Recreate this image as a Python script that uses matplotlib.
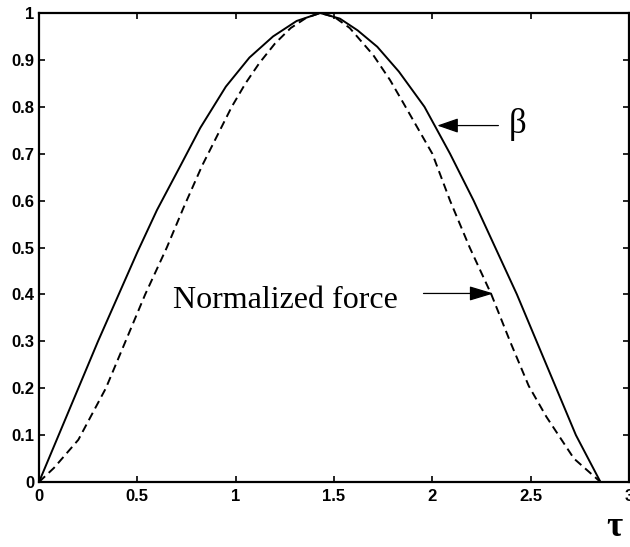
import matplotlib
matplotlib.use("Agg")
import matplotlib.pyplot as plt

# beta (solid) against tau
tau_beta = [0, 0.10, 0.20, 0.30, 0.40, 0.50, 0.60, 0.72, 0.82, 0.95, 1.07, 1.19,
            1.31, 1.43, 1.53, 1.62, 1.72, 1.83, 1.96, 2.09, 2.21, 2.32, 2.43,
            2.53, 2.63, 2.73, 2.855]
beta = [0, 0.10, 0.20, 0.30, 0.395, 0.49, 0.58, 0.675, 0.755, 0.843, 0.905, 0.950,
        0.983, 1.0, 0.988, 0.963, 0.928, 0.875, 0.80, 0.70, 0.60, 0.50, 0.40,
        0.30, 0.20, 0.10, 0]

# normalized force (dashed) against tau
tau_force = [0, 0.076, 0.20, 0.34, 0.44, 0.54, 0.65, 0.735, 0.83, 0.92, 0.98,
             1.05, 1.12, 1.20, 1.28, 1.36, 1.43, 1.50, 1.58, 1.70, 1.785, 1.85,
             2.0, 2.09, 2.19, 2.30, 2.395, 2.49, 2.58, 2.72, 2.855]
force = [0, 0.03, 0.09, 0.20, 0.30, 0.40, 0.50, 0.585, 0.675, 0.75, 0.80,
         0.85, 0.893, 0.935, 0.968, 0.99, 1.0, 0.992, 0.968, 0.910, 0.857, 0.81,
         0.70, 0.60, 0.50, 0.40, 0.30, 0.205, 0.139, 0.05, 0]

xticks = [0, 0.5, 1, 1.5, 2, 2.5, 3]
xticklabels = ['0', '0.5', '1', '1.5', '2', '2.5', '3']
yticks = [0, 0.1, 0.2, 0.3, 0.4, 0.5, 0.6, 0.7, 0.8, 0.9, 1]
yticklabels = ['0', '0.1', '0.2', '0.3', '0.4', '0.5', '0.6', '0.7', '0.8', '0.9', '1']

plt.rcParams['lines.scale_dashes'] = False

fig = plt.figure(figsize=(6.3, 5.47), dpi=100)
ax = fig.add_axes([39 / 630, 65 / 547, 590 / 630, 469 / 547])

ax.plot(tau_beta, beta, color='black', lw=1.4)
ax.plot(tau_force, force, color='black', lw=1.4, linestyle=(0, (6, 3.6)))

ax.set_xlim(0, 3)
ax.set_ylim(0, 1)
ax.set_xticks(xticks)
ax.set_xticklabels(xticklabels)
ax.set_yticks(yticks)
ax.set_yticklabels(yticklabels)
for lab in ax.get_xticklabels() + ax.get_yticklabels():
    lab.set_fontfamily('Liberation Sans')
    lab.set_fontweight('bold')
    lab.set_fontsize(12)
ax.tick_params(direction='in', length=4, width=1.2, top=True, right=True)
ax.tick_params(axis='x', pad=5)
ax.tick_params(axis='y', pad=3.5)
for sp in ax.spines.values():
    sp.set_linewidth(1.6)

# labels with arrows
serif = 'Liberation Serif'
ax.annotate('', xy=(2.025, 0.760), xytext=(2.336, 0.760),
            arrowprops=dict(arrowstyle='-|>,head_length=1.3,head_width=0.45',
                            color='black', lw=0.9, shrinkA=0, shrinkB=0))
ax.text(2.387, 0.744, 'β', fontsize=25, family=serif, va='baseline', ha='left')

ax.annotate('', xy=(2.311, 0.402), xytext=(1.955, 0.402),
            arrowprops=dict(arrowstyle='-|>,head_length=1.5,head_width=0.45',
                            color='black', lw=0.9, shrinkA=0, shrinkB=0))
ax.text(0.682, 0.371, 'Normalized force', fontsize=23, family=serif,
        va='baseline', ha='left')

ax.text(2.925, -0.132, 'τ', fontsize=25, family=serif, weight='bold',
        va='bottom', ha='center', clip_on=False)

fig.savefig('out.png', dpi=100)
